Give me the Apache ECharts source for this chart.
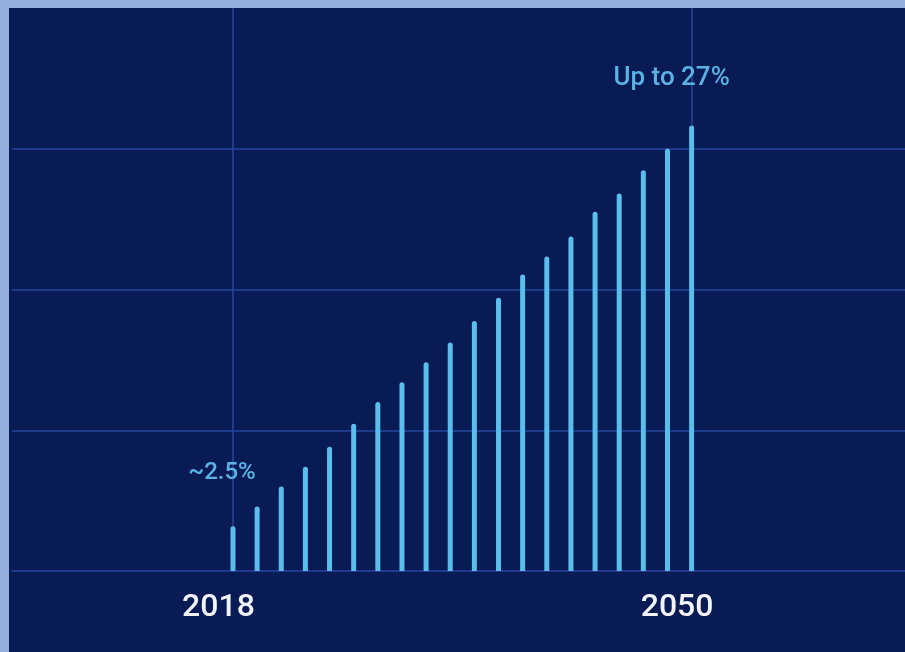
<!DOCTYPE html>
<html>
<head>
<meta charset="utf-8">
<script src="https://cdn.jsdelivr.net/npm/echarts@6/dist/echarts.min.js"></script>
<style>
  html, body { margin: 0; padding: 0; background: #94AEDC; width: 905px; height: 652px; overflow: hidden; }
  #chart { position: absolute; left: 9px; top: 8px; width: 896px; height: 644px; }
</style>
</head>
<body>
<div id="chart"></div>
<script>
// Bar index labels (only first and last are shown)
const yearLabels = ['2018', '', '', '', '', '', '', '', '', '', '', '', '', '', '', '', '', '', '', '2050'];
// Share values (%)
const shareValues = [2.7, 3.9, 5.1, 6.3, 7.5, 8.9, 10.2, 11.4, 12.6, 13.8, 15.1, 16.5, 17.9, 19.0, 20.2, 21.7, 22.8, 24.2, 25.5, 26.9];
// Annotations on first and last bars
const firstNote = '~2.5%';
const lastNote = 'Up to 27%';
// Y gridline step
const yStep = 8.5;
const yMax = 34;

const gridColor = '#25479B';
const barColor = '#5BBDEB';
const noteColor = '#5AB3E4';

const seriesData = shareValues.map((v, i) => {
  const item = { value: [i, v] };
  if (i === 0) {
    item.label = { show: true, formatter: firstNote, position: 'top', offset: [-11, -36], fontSize: 24 };
  } else if (i === shareValues.length - 1) {
    item.label = { show: true, formatter: lastNote, position: 'top', offset: [-20, -29], fontSize: 26 };
  }
  return item;
});

const chart = echarts.init(document.getElementById('chart'), null, { renderer: 'canvas' });
chart.setOption({
  backgroundColor: '#081B54',
  animation: false,
  grid: { left: 3, right: 0, top: 0, bottom: 81, containLabel: false },
  xAxis: {
    type: 'value',
    min: -9.155,
    max: 27.84,
    axisLine: { show: true, onZero: false, lineStyle: { color: gridColor, width: 1.5 } },
    axisTick: { show: false },
    splitLine: { show: false },
    axisLabel: {
      show: true,
      customValues: [0, yearLabels.length - 1],
      formatter: (v) => yearLabels[Math.round(v)] || '',
      color: '#F2F4FA',
      fontFamily: 'Roboto',
      fontWeight: 500,
      fontSize: 32,
      margin: 21,
      padding: [0, 29, 0, 0]
    }
  },
  yAxis: {
    type: 'value',
    min: 0,
    max: yMax,
    interval: yStep,
    axisLine: { show: false },
    axisTick: { show: false },
    axisLabel: { show: false },
    splitLine: { show: true, showMinLine: false, showMaxLine: false, lineStyle: { color: gridColor, width: 1.5 } }
  },
  series: [{
    type: 'line',
    data: [],
    z: 1,
    markLine: {
      z: 1,
      zlevel: 0,
      silent: true,
      symbol: 'none',
      label: { show: false },
      lineStyle: { color: gridColor, width: 1.5, type: 'solid' },
      data: [{ xAxis: 0 }, { xAxis: yearLabels.length - 1 }]
    }
  }, {
    type: 'bar',
    data: seriesData,
    barWidth: 5,
    itemStyle: { color: barColor, borderRadius: [2.5, 2.5, 0, 0] },
    label: { color: noteColor, fontFamily: 'Roboto', fontWeight: 500 },
    z: 3
  }]
});
</script>
</body>
</html>
